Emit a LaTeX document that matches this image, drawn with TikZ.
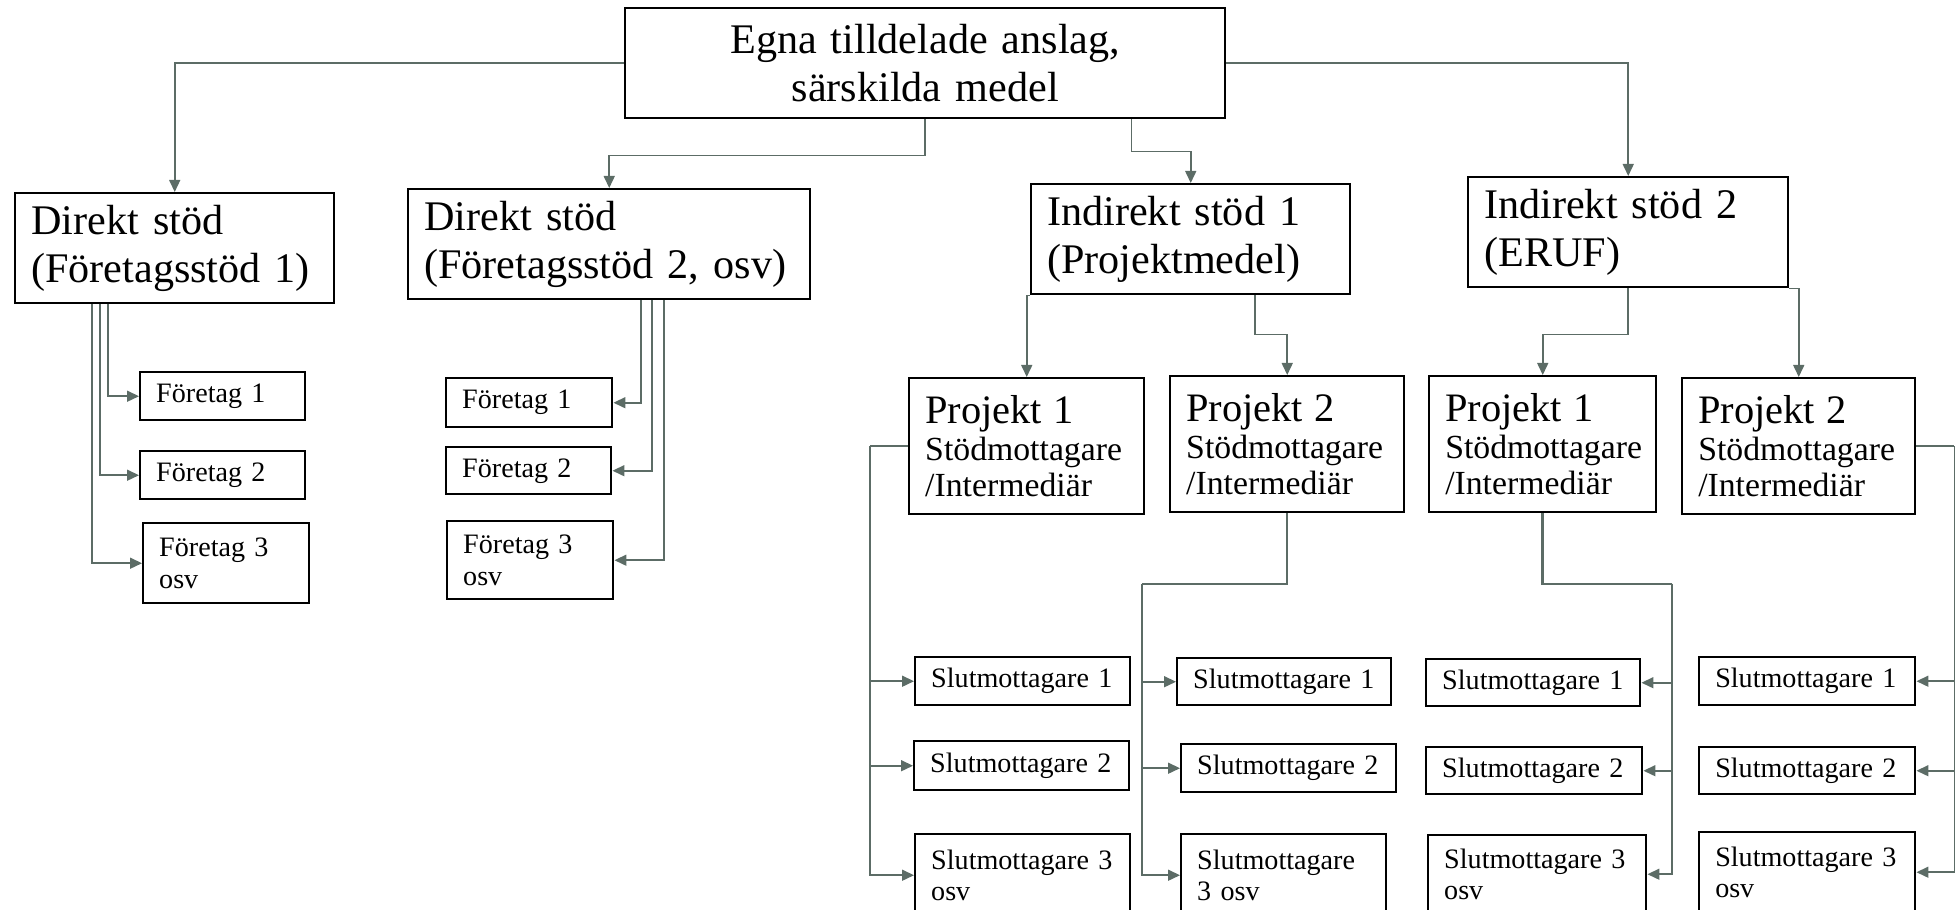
\documentclass[tikz,border=0pt]{standalone}
\usepackage{fontspec}
\setmainfont{Liberation Serif}
\usetikzlibrary{arrows.meta}
\definecolor{lineg}{RGB}{92,108,102}
\hyphenpenalty=10000
\tikzset{
  bx/.style={draw,line width=.7pt,anchor=north west,align=left,inner xsep=.16cm,inner ysep=0pt},
  big/.style={font=\fontsize{12}{13.5}\selectfont},
  prj/.style={font=\fontsize{9.6}{10.5}\selectfont},
  sm/.style={font=\fontsize{8}{9}\selectfont},
  line/.style={draw=lineg,line width=.45pt},
  conn/.style={line,-{Triangle[length=.12cm,width=.11cm]}}
}
\begin{document}
\begin{tikzpicture}[x=1cm,y=-1cm]
\useasboundingbox(0,0)rectangle(19.6,9.1);
% top level
\node[bx,big,align=center,text width=5.68cm,minimum height=1.1cm](top)at(6.24,.07){Egna tilldelade anslag,\\särskilda medel};
\node[bx,big,text width=2.87cm,minimum height=1.1cm](d1)at(.14,1.92){Direkt stöd\\(Företagsstöd 1)};
\node[bx,big,text width=3.70cm,minimum height=1.1cm](d2)at(4.07,1.88){Direkt stöd\\(Företagsstöd 2, osv)};
\node[bx,big,text width=2.87cm,minimum height=1.1cm](i1)at(10.30,1.83){Indirekt stöd 1\\(Projektmedel)};
\node[bx,big,text width=2.88cm,minimum height=1.1cm](i2)at(14.67,1.76){Indirekt stöd 2\\(ERUF)};
\draw[conn](top.west)-|(d1.north);
\draw[conn](top.south)--++(0,.36)-|(d2.north);
\draw[conn](top.east)-|(i2.north);
\draw[conn]([xshift=-.95cm]top.south east)--++(0,.32)-|(i1.north);
% direkt stod
\node[bx,sm,text width=1.33cm,minimum height=.48cm](f1)at(1.39,3.71){Företag 1};
\node[bx,sm,text width=1.33cm,minimum height=.48cm](f2)at(1.39,4.50){Företag 2};
\node[bx,sm,text width=1.34cm,minimum height=.80cm](f3)at(1.42,5.22){Företag 3\\osv};
\node[bx,sm,text width=1.34cm,minimum height=.49cm](g1)at(4.45,3.77){Företag 1};
\node[bx,sm,text width=1.33cm,minimum height=.47cm](g2)at(4.45,4.46){Företag 2};
\node[bx,sm,text width=1.34cm,minimum height=.78cm](g3)at(4.46,5.20){Företag 3\\osv};
\foreach \f/\s in {f1/.94,f2/.86,f3/.78}\draw[conn]([xshift=\s cm]d1.south west)|-(\f.west);
\foreach \f/\s in {g1/2.34,g2/2.45,g3/2.57}\draw[conn]([xshift=\s cm]d2.south west)|-(\f.east);
% projekt
\node[bx,prj,text width=2.03cm,minimum height=1.36cm](pA)at(9.08,3.77){{\fontsize{11.5}{12}\selectfont Projekt 1}\\Stödmottagare\\/Intermediär};
\node[bx,prj,text width=2.02cm,minimum height=1.36cm](pB)at(11.69,3.75){{\fontsize{11.5}{12}\selectfont Projekt 2}\\Stödmottagare\\/Intermediär};
\node[bx,prj,text width=1.95cm,minimum height=1.36cm](pC)at(14.28,3.75){{\fontsize{11.5}{12}\selectfont Projekt 1}\\Stödmottagare\\/Intermediär};
\node[bx,prj,text width=2.01cm,minimum height=1.36cm](pD)at(16.81,3.77){{\fontsize{11.5}{12}\selectfont Projekt 2}\\Stödmottagare\\/Intermediär};
\draw[conn](i1.south west)-|(pA.north);
\draw[conn]([xshift=2.25cm]i1.south west)--++(0,.39)-|(pB.north);
\draw[conn](i2.south)--++(0,.46)-|(pC.north);
\draw[conn](i2.south east)-|(pD.north);
% slutmottagare
\node[bx,sm,text width=1.83cm,minimum height=.48cm](sA1)at(9.14,6.56){Slutmottagare 1};
\node[bx,sm,text width=1.83cm,minimum height=.49cm](sA2)at(9.13,7.40){Slutmottagare 2};
\node[bx,sm,text width=1.83cm,minimum height=.82cm](sA3)at(9.14,8.33){Slutmottagare 3\\osv};
\node[bx,sm,text width=1.82cm,minimum height=.47cm](sB1)at(11.76,6.57){Slutmottagare 1};
\node[bx,sm,text width=1.83cm,minimum height=.48cm](sB2)at(11.80,7.43){Slutmottagare 2};
\node[bx,sm,text width=1.73cm,minimum height=.82cm](sB3)at(11.80,8.33){Slutmottagare\\3 osv};
\node[bx,sm,text width=1.82cm,minimum height=.47cm](sC1)at(14.25,6.58){Slutmottagare 1};
\node[bx,sm,text width=1.84cm,minimum height=.47cm](sC2)at(14.25,7.46){Slutmottagare 2};
\node[bx,sm,text width=1.86cm,minimum height=.78cm](sC3)at(14.27,8.34){Slutmottagare 3\\osv};
\node[bx,sm,text width=1.84cm,minimum height=.48cm](sD1)at(16.98,6.56){Slutmottagare 1};
\node[bx,sm,text width=1.84cm,minimum height=.47cm](sD2)at(16.98,7.46){Slutmottagare 2};
\node[bx,sm,text width=1.84cm,minimum height=.80cm](sD3)at(16.98,8.31){Slutmottagare 3\\osv};
\coordinate(a)at([xshift=-.38cm]pA.west);
\coordinate(b)at(11.42,5.84);
\coordinate(c)at(16.72,5.84);
\coordinate(d)at([xshift=.38cm]pD.east);
\draw[line](pA.west)--(a);
\draw[line](pB.south)|-(b);
\draw[line,line width=.8pt](pC.south)|-(c);
\draw[line](pD.east)--(d);
\foreach \s in {sA1,sA2,sA3}\draw[conn](a)|-(\s.west);
\foreach \s in {sB1,sB2,sB3}\draw[conn](b)|-(\s.west);
\foreach \s in {sC1,sC2,sC3}\draw[conn](c)|-(\s.east);
\foreach \s in {sD1,sD2,sD3}\draw[conn](d)|-(\s.east);
\end{tikzpicture}
\end{document}
